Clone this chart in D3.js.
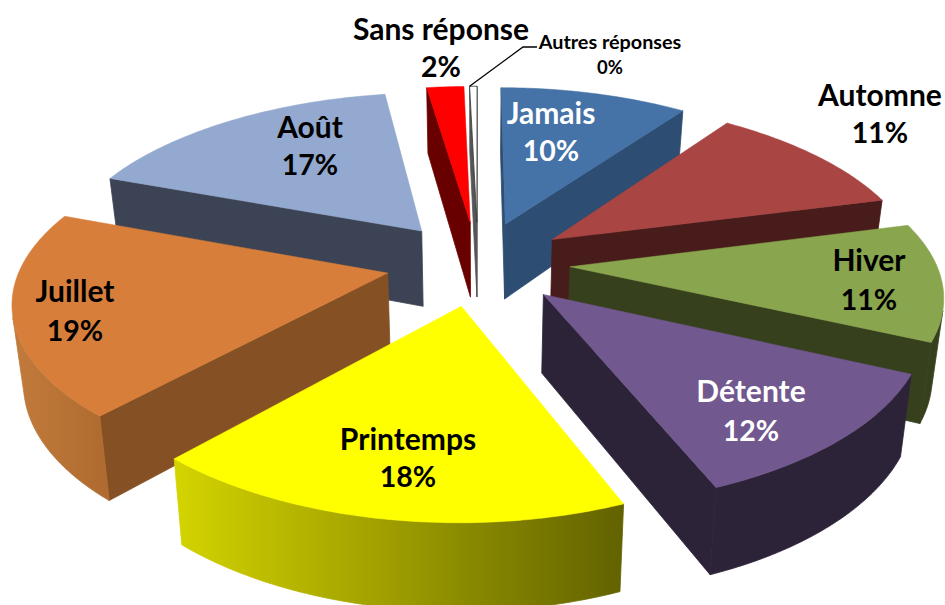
<!DOCTYPE html>
<html><head><meta charset="utf-8">
<script src="https://cdnjs.cloudflare.com/ajax/libs/d3/7.8.5/d3.min.js"></script>
<style>html,body{margin:0;background:#fff}svg{display:block}text{font-family:Lato,sans-serif;font-weight:700}</style>
</head><body><svg id="c" width="945" height="605"></svg>
<script>
const categories = ["Jamais","Automne","Hiver","Détente","Printemps","Juillet","Août","Sans réponse","Autres réponses"];
const values = [10,11,11,12,18,19,17,2,0];
const topColors = ["#4572a7","#a94543","#89a54e","#71588f","#ffff00","#d77e3b","#93a9cf","#ff0000","#ffffff"];
const cutColors = ["#2d4d72","#481c1a","#37401d","#2d2339","#666600","#845024","#3b4354","#690000","#555555"];
const wallLeft  = ["#2d4d72","#481c1a","#37401d","#2d2339","#d4d400","#c27b3c","#3b4354","#690000","#555555"];
const wallRight = ["#2d4d72","#481c1a","#37401d","#2d2339","#626200","#b06c30","#3b4354","#690000","#555555"];
const textColors = ["#fff","#000","#000","#fff","#000","#000","#000","#000","#000"];

const svg = d3.select("#c");
const defs = svg.append("defs");
const cx = 478, cy = 263, R = 366, explode = 92, D = 2385, K = 0.46;
const minSliver = 0.4;   // a 0% slice still shows as a thin sliver
const pie = d3.pie().sort(null).value(d => Math.max(d.v, minSliver));
const arcs = pie(values.map((v,i)=>({v,i})));
const wallH = d3.scaleLinear().domain([-400,400]).range([67,87]);

function project(x,w,drop){           // x: right, w: toward the viewer, drop: wall depth
  const s = D/(D-w);
  const narrow = 1 - 0.025*(w/430)*(w/430);
  const converge = drop ? 0.975 : 1;  // verticals converge downward
  return [cx + x*s*narrow*converge, cy + K*w*s + (drop ? wallH(w) : 0)];
}
function polar(a,r,mid){              // pie polar + explosion along mid-angle
  const x = explode*Math.sin(mid) + r*Math.sin(a);
  const w = -explode*Math.cos(mid) - r*Math.cos(a);
  return [x,w];
}
const line = d3.line();
const area2 = pts => { let s=0; pts.forEach((p,i)=>{const q=pts[(i+1)%pts.length]; s+=p[0]*q[1]-q[0]*p[1];}); return s/2; };

const order = arcs.slice().sort((a,b)=>{
  const m = d=>(d.startAngle+d.endAngle)/2;
  return -Math.cos(m(a)) - -Math.cos(m(b));
});

const g = svg.append("g");
order.forEach(d=>{
  const i = d.data.i, mid=(d.startAngle+d.endAngle)/2;
  const steps = Math.max(2,Math.ceil((d.endAngle-d.startAngle)/0.015));
  const angles = d3.range(steps+1).map(k=>d.startAngle+(d.endAngle-d.startAngle)*k/steps);
  const apex = polar(0,0,mid);
  const outer = angles.map(a=>polar(a,R,mid));
  const P = (p,dr)=>project(p[0],p[1],dr);

  // radial cut faces
  const faces = [[apex,outer[0]],[outer[outer.length-1],apex]];
  faces.forEach(([a,b])=>{
    const q=[P(a,false),P(b,false),P(b,true),P(a,true)];
    if(area2(q)<0){
      g.append("path").attr("d",line(q)+"Z").attr("fill",cutColors[i]).attr("stroke",cutColors[i]).attr("stroke-width",.8);
    }
  });
  // outer wall: the front-facing run of segments, one polygon with a gradient
  const run = [];
  for(let k=0;k<outer.length-1;k++){
    const q=[P(outer[k],false),P(outer[k],true),P(outer[k+1],true),P(outer[k+1],false)];
    if(area2(q)>0){ if(!run.length) run.push(outer[k]); run.push(outer[k+1]); }
  }
  if(run.length){
    const poly = run.map(p=>P(p,false)).concat(run.slice().reverse().map(p=>P(p,true)));
    const [x0,x1] = d3.extent(outer,p=>P(p,false)[0]);
    const id = "wall"+i;
    const lg = defs.append("linearGradient").attr("id",id).attr("gradientUnits","userSpaceOnUse")
      .attr("x1",x0).attr("x2",x1).attr("y1",0).attr("y2",0);
    lg.append("stop").attr("offset",0).attr("stop-color",wallLeft[i]);
    lg.append("stop").attr("offset",1).attr("stop-color",wallRight[i]);
    g.append("path").attr("d",line(poly)+"Z").attr("fill",`url(#${id})`)
      .attr("stroke",`url(#${id})`).attr("stroke-width",.8);
  }
  // top face
  const top=[P(apex,false)].concat(outer.map(p=>P(p,false)));
  g.append("path").attr("d",line(top)+"Z").attr("fill",topColors[i])
    .attr("stroke",i===8?"#333":topColors[i]).attr("stroke-width",i===8?.8:.5);
});

// leader line for the sliver slice
const sliver = arcs[8];
const tip = project(...polar(sliver.startAngle,R,(sliver.startAngle+sliver.endAngle)/2));
g.append("path").attr("fill","none").attr("stroke","#000").attr("stroke-width",1.3)
  .attr("d",line([tip,[523,47],[537,47]]));

// labels
const labelAt = [[551,113,151],[880,95,133],[869,260,300],[751,391,431],[408,439,477],[75,291,331],[310,127,165],[441,29,67],[610,42,68]];
categories.forEach((c,i)=>{
  const [x,y1,y2]=labelAt[i], small=i===8, f1=small?19.8:30, f2=small?18.5:28.5;
  const t=svg.append("g").attr("fill",textColors[i]).attr("text-anchor","middle");
  t.append("text").attr("x",x).attr("y",y1+f1*.35).attr("font-size",f1).text(c);
  t.append("text").attr("x",x).attr("y",y2+f2*.35).attr("font-size",f2).text(d3.format(".0f")(values[i])+"%");
});
</script></body></html>
